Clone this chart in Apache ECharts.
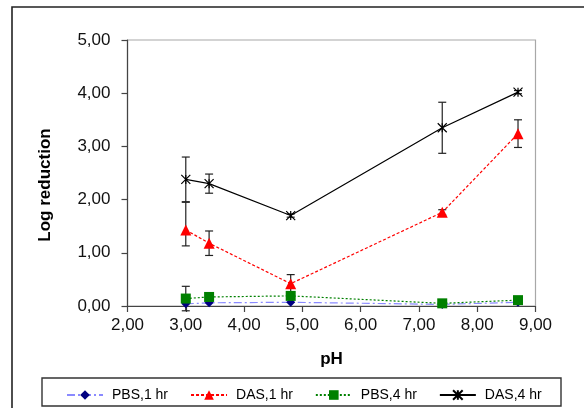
<!DOCTYPE html>
<html>
<head>
<meta charset="utf-8">
<script src="https://cdn.jsdelivr.net/npm/echarts@6/dist/echarts.min.js"></script>
<style>
html,body{margin:0;padding:0;background:#fff;}
#chart{width:584px;height:408px;}
</style>
</head>
<body>
<div id="chart"></div>
<script>
// ---- data ----
const phValues = [3.0, 3.4, 4.8, 7.4, 8.7];
const seriesNames = ['PBS,1 hr', 'DAS,1 hr', 'PBS,4 hr', 'DAS,4 hr'];
const pbs1 = [0.04, 0.06, 0.07, 0.03, 0.07];
const pbs1ErrUp = [0, 0, 0, 0, 0];
const pbs1ErrDown = [0, 0, 0, 0, 0];
const das1 = [1.43, 1.18, 0.42, 1.76, 3.24];
const das1ErrUp = [0.52, 0.23, 0.17, 0.05, 0.26];
const das1ErrDown = [0.30, 0.23, 0.17, 0.05, 0.26];
const pbs4 = [0.14, 0.17, 0.19, 0.05, 0.11];
const pbs4ErrUp = [0.23, 0.04, 0.04, 0.02, 0.05];
const pbs4ErrDown = [0.23, 0.04, 0.04, 0.02, 0.05];
const das4 = [2.38, 2.30, 1.70, 3.35, 4.02];
const das4ErrUp = [0.42, 0.18, 0.03, 0.48, 0.03];
const das4ErrDown = [0.42, 0.18, 0.03, 0.48, 0.03];
const yTicks = [0, 1, 2, 3, 4, 5];
const xTicks = [2, 3, 4, 5, 6, 7, 8, 9];

function pts(vals) { return phValues.map((x, i) => [x, vals[i]]); }
function errPts(vals, up, down) {
  return phValues.map((x, i) => [x, vals[i] - down[i], vals[i] + up[i]]).filter((d, i) => up[i] > 0 || down[i] > 0);
}
function fmt(v) { return v.toFixed(2).replace('.', ','); }

function renderErr(params, api) {
  const x = api.value(0), lo = api.value(1), hi = api.value(2);
  const a = api.coord([x, hi]), b = api.coord([x, lo]);
  const w = 4;
  const st = { stroke: '#222', lineWidth: 1.2 };
  return {
    type: 'group',
    children: [
      { type: 'line', shape: { x1: a[0], y1: a[1], x2: b[0], y2: b[1] }, style: st },
      { type: 'line', shape: { x1: a[0] - w, y1: a[1], x2: a[0] + w, y2: a[1] }, style: st },
      { type: 'line', shape: { x1: b[0] - w, y1: b[1], x2: b[0] + w, y2: b[1] }, style: st }
    ]
  };
}
function errSeries(vals, up, down) {
  return {
    type: 'custom', renderItem: renderErr, data: errPts(vals, up, down),
    encode: { x: 0, y: [1, 2] }, z: 1, silent: true, tooltip: { show: false }
  };
}

const asterisk = 'path://M0,0L10,10M10,0L0,10M5,0L5,10';

const chart = echarts.init(document.getElementById('chart'), null, { renderer: 'canvas' });
const font = 'Liberation Sans, Arial, sans-serif';
chart.setOption({
  animation: false,
  backgroundColor: '#fff',
  textStyle: { fontFamily: font },
  grid: { left: 127.5, right: 48.5, top: 40, bottom: 102, show: true, borderColor: '#a8a8a8', borderWidth: 1.2 },
  xAxis: {
    type: 'value', min: 2, max: 9, interval: 1,
    name: 'pH', nameLocation: 'middle', nameGap: 45,
    nameTextStyle: { fontSize: 17, fontWeight: 'bold', color: '#000', fontFamily: font },
    axisLine: { lineStyle: { color: '#444', width: 1.2 } },
    axisTick: { show: true, inside: false, length: 6, lineStyle: { color: '#444', width: 1.2 } },
    axisLabel: { fontSize: 17, color: '#111', margin: 11, formatter: fmt, fontFamily: font },
    splitLine: { show: false }
  },
  yAxis: {
    type: 'value', min: 0, max: 5, interval: 1,
    axisLine: { show: true, lineStyle: { color: '#444', width: 1.2 } },
    axisTick: { show: true, inside: false, length: 6, lineStyle: { color: '#444', width: 1.2 } },
    axisLabel: { fontSize: 17, color: '#111', margin: 17, formatter: fmt, fontFamily: font },
    splitLine: { show: false }
  },
  legend: {
    data: seriesNames,
    left: 61, top: 383,
    itemWidth: 36, itemHeight: 12, itemGap: 22,
    textStyle: { fontSize: 14, color: '#000', fontFamily: font, padding: [0, 0, 0, 4] }
  },
  graphic: [
    { type: 'rect', shape: { x: 12, y: 7, width: 620, height: 460 }, style: { fill: 'none', stroke: '#222', lineWidth: 1.6 }, z: -10, silent: true },
    { type: 'rect', shape: { x: 42, y: 378, width: 519, height: 28 }, style: { fill: '#fff', stroke: '#333', lineWidth: 1.4 }, z: -5, silent: true },
    { type: 'text', x: 45, y: 185, rotation: Math.PI / 2,
      style: { text: 'Log reduction', font: 'bold 17px Liberation Sans, Arial, sans-serif', fill: '#000', textAlign: 'center', textVerticalAlign: 'middle' } }
  ],
  series: [
    errSeries(pbs1, pbs1ErrUp, pbs1ErrDown),
    errSeries(das1, das1ErrUp, das1ErrDown),
    errSeries(pbs4, pbs4ErrUp, pbs4ErrDown),
    errSeries(das4, das4ErrUp, das4ErrDown),
    {
      name: seriesNames[0], type: 'line', data: pts(pbs1), z: 3,
      symbol: 'diamond', symbolSize: 9,
      itemStyle: { color: '#000080' },
      lineStyle: { color: '#8a8aff', width: 1.2, type: [8, 3, 2, 3] }
    },
    {
      name: seriesNames[1], type: 'line', data: pts(das1), z: 4,
      symbol: 'triangle', symbolSize: 11,
      itemStyle: { color: '#ff0000' },
      lineStyle: { color: '#ff0000', width: 1.2, type: [3, 2] }
    },
    {
      name: seriesNames[2], type: 'line', data: pts(pbs4), z: 5,
      symbol: 'rect', symbolSize: 10,
      itemStyle: { color: '#008000' },
      lineStyle: { color: '#008000', width: 1.2, type: [2, 2] }
    },
    {
      name: seriesNames[3], type: 'line', data: pts(das4), z: 6,
      symbol: asterisk, symbolSize: 9,
      itemStyle: { color: '#000', borderColor: '#000', borderWidth: 1.2 },
      lineStyle: { color: '#000', width: 1.2, type: 'solid' }
    }
  ]
});
</script>
</body>
</html>
